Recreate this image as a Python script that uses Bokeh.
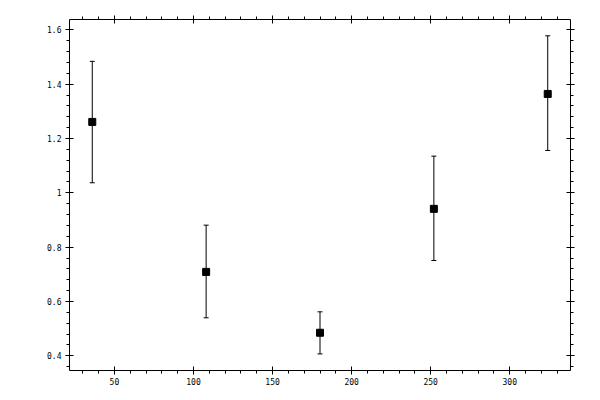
from bokeh.plotting import figure
from bokeh.models import (ColumnDataSource, Whisker, TeeHead, FixedTicker, LinearAxis,
                          Range1d, CustomJSTickFormatter)
from bokeh.embed import file_html
from bokeh.resources import INLINE

# data
x_vals = [36, 108, 180, 252, 324]
y_vals = [1.261, 0.709, 0.485, 0.941, 1.364]
y_upper = [1.484, 0.881, 0.562, 1.135, 1.578]
y_lower = [1.037, 0.540, 0.407, 0.751, 1.156]

x_ticks = [50, 100, 150, 200, 250, 300]
y_ticks = [0.4, 0.6, 0.8, 1.0, 1.2, 1.4, 1.6]
x_minor = [v for v in range(30, 340, 10) if v % 50 != 0]
y_minor = [round(0.36 + 0.04 * i, 2) for i in range(32)]
y_minor = [v for v in y_minor if v <= 1.63 and abs(round(v / 0.2) * 0.2 - v) > 1e-6]

source = ColumnDataSource(dict(x=x_vals, y=y_vals, upper=y_upper, lower=y_lower))

FONT = "DejaVu Sans Mono"

p = figure(frame_width=501, frame_height=351, output_backend="svg", toolbar_location=None,
           x_range=Range1d(21.6, 338.4), y_range=Range1d(0.346, 1.638),
           background_fill_color="white", border_fill_color="white")
p.min_border = 0
p.min_border_left = 69
p.min_border_right = 22
p.min_border_top = 19
p.min_border_bottom = 22
p.outline_line_color = None
p.xgrid.visible = False
p.ygrid.visible = False

xt = FixedTicker(ticks=x_ticks, minor_ticks=x_minor)
yt = FixedTicker(ticks=y_ticks, minor_ticks=y_minor)
fmt_y = CustomJSTickFormatter(code="return String(parseFloat(tick.toFixed(2)));")
fmt_x = CustomJSTickFormatter(code="return String(Math.round(tick));")
fmt_none = CustomJSTickFormatter(code="return '';")


def style(ax, labels=True):
    ax.axis_line_color = "black"
    ax.axis_line_width = 1
    ax.major_tick_line_color = "black"
    ax.minor_tick_line_color = "black"
    ax.major_tick_in = 4
    ax.major_tick_out = 4
    ax.minor_tick_in = 0
    ax.minor_tick_out = 3
    ax.major_label_text_font = FONT
    ax.major_label_text_font_size = "8px" if labels else "0px"
    ax.major_label_text_color = "black"
    if not labels:
        ax.major_label_standoff = 0


p.xaxis.ticker = xt
p.yaxis.ticker = yt
p.xaxis.formatter = fmt_x
p.yaxis.formatter = fmt_y
style(p.xaxis[0])
style(p.yaxis[0])
p.xaxis.major_label_standoff = 3
p.yaxis.major_label_standoff = 4

top = LinearAxis(ticker=FixedTicker(ticks=x_ticks, minor_ticks=x_minor), formatter=fmt_none)
right = LinearAxis(ticker=FixedTicker(ticks=y_ticks, minor_ticks=y_minor), formatter=fmt_none)
style(top, labels=False)
style(right, labels=False)
p.add_layout(top, "above")
p.add_layout(right, "right")

whisk = Whisker(base="x", upper="upper", lower="lower", source=source,
                line_color="black", line_width=1,
                upper_head=TeeHead(size=5, line_color="black", line_width=1),
                lower_head=TeeHead(size=5, line_color="black", line_width=1))
p.add_layout(whisk)

p.scatter("x", "y", source=source, marker="square", size=7,
          fill_color="black", line_color="black")

open("out.html", "w").write(file_html(p, INLINE))
